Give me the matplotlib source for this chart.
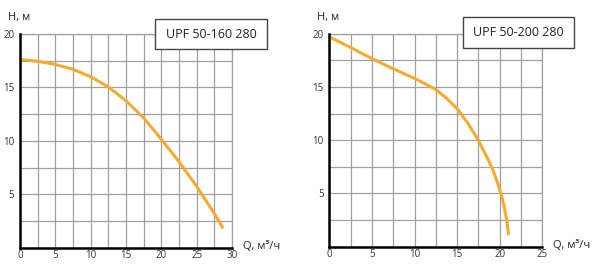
import numpy as np
import matplotlib.pyplot as plt

# кривые насосов (Q, м3/ч ; H, м)
q_160 = [0, 2.5, 5, 7.5, 10, 12.5, 15, 17.5, 20, 22.5, 25, 27.5, 28.75]
h_160 = [17.6, 17.45, 17.15, 16.7, 16.0, 15.05, 13.75, 12.15, 10.15, 8.05, 5.75, 3.2, 1.8]

q_200 = [0, 2.5, 5, 7.5, 10, 11.25, 12.5, 13.75, 15, 16.25, 17.5, 18.05, 18.6,
         19.2, 19.7, 20.15, 20.5, 20.8, 21.05]
h_200 = [19.7, 18.7, 17.66, 16.7, 15.8, 15.3, 14.75, 13.95, 12.95, 11.6, 10.0, 9.1,
         8.25, 7.2, 6.1, 5.0, 3.8, 2.6, 1.1]

names = ["UPF 50-160 280", "UPF 50-200 280"]
xmax = [30, 25]

orange = "#F7AA30"
grid_col = "#a0a0a0"

plt.rcParams['font.family'] = ['Open Sans', 'DejaVu Sans']

fig = plt.figure(figsize=(5.98, 2.65), dpi=100)
positions = [[0.0334, 0.0653, 0.3545, 0.8064], [0.5507, 0.069, 0.3562, 0.804]]
curves = [(q_160, h_160), (q_200, h_200)]
boxes = [(155, 19, 267, 49), (463, 17, 574, 48)]

for i in range(2):
    ax = fig.add_axes(positions[i])
    q, h = curves[i]
    ax.plot(q, h, color=orange, lw=2.2, solid_capstyle='butt',
            solid_joinstyle='round', zorder=3)
    ax.set_xlim(0, xmax[i])
    ax.set_ylim(0, 20)
    ax.set_xticks(np.arange(0, xmax[i] + 0.1, 2.5), minor=True)
    ax.set_yticks(np.arange(0, 20.1, 2.5), minor=True)
    ax.set_xticks(np.arange(0, xmax[i] + 0.1, 5))
    ax.set_yticks([5, 10, 15, 20])
    ax.grid(which='both', color=grid_col, lw=0.9)
    ax.tick_params(which='both', length=0, labelsize=7, colors='#333333', pad=2)
    ax.tick_params(axis='y', pad=4)
    for s in ['left', 'bottom']:
        ax.spines[s].set_linewidth(1.8)
        ax.spines[s].set_color('black')
        ax.spines[s].set_zorder(4)
    for s in ['top', 'right']:
        ax.spines[s].set_linewidth(0.9)
        ax.spines[s].set_color(grid_col)

    x0, y0, x1, y1 = boxes[i]
    rect = plt.Rectangle((x0 / 598, 1 - y1 / 265), (x1 - x0) / 598, (y1 - y0) / 265,
                         transform=fig.transFigure, facecolor='white',
                         edgecolor='#444444', lw=1.0, zorder=5)
    fig.add_artist(rect)
    fig.text((x0 + x1) / 2 / 598, 1 - (y0 + y1) / 2 / 265, names[i],
             ha='center', va='center', fontsize=9, color='#222222', zorder=6)

    lx = positions[i][0]
    fig.text(lx - 0.02, 0.935, "H, м", fontsize=8, color='#222222', ha='left', va='center')
    fig.text(lx + positions[i][2] + 0.018, positions[i][1] + 0.005, "Q, м³/ч",
             fontsize=8, color='#222222', ha='left', va='center')

fig.savefig("out.png", dpi=100)
